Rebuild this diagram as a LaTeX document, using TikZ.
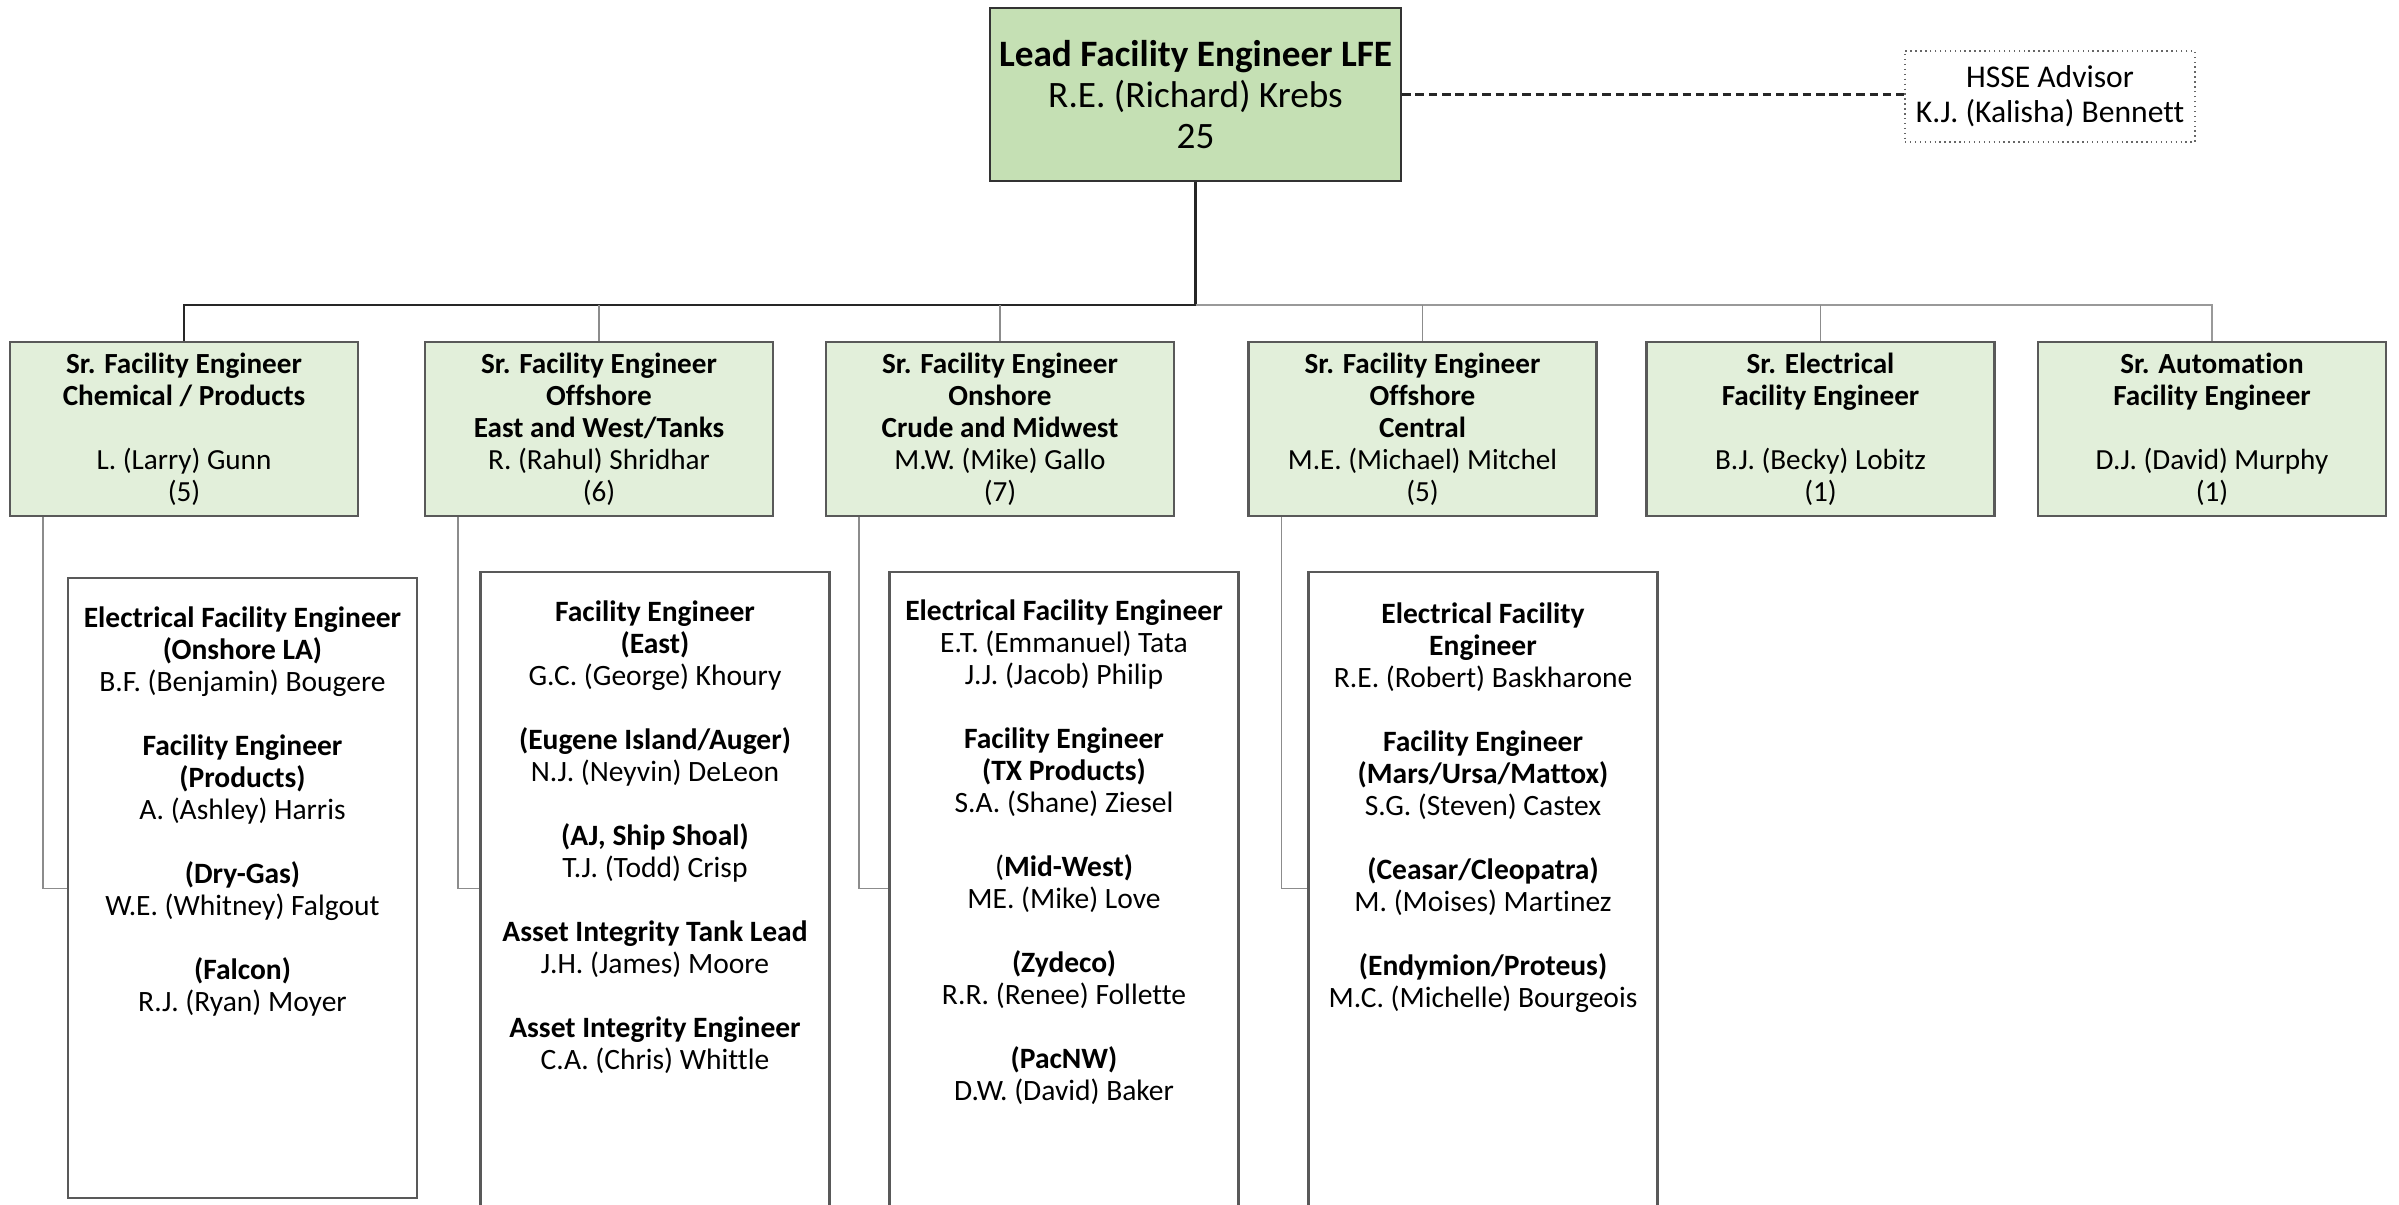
\documentclass[tikz,border=0pt]{standalone}
\usepackage{fontspec}
\setmainfont{Carlito}[Ligatures=CommonOff]
\definecolor{leadgreen}{HTML}{C5E0B4}
\definecolor{srgreen}{HTML}{E2EFDA}
\definecolor{boxline}{HTML}{595959}
\definecolor{connline}{HTML}{8C8C8C}
\begin{document}
\begin{tikzpicture}[
  lead/.style={draw=black!80, line width=0.6pt, fill=leadgreen, minimum width=4.11cm, minimum height=1.73cm, inner sep=0pt, align=center, font=\fontsize{10.6}{11.7}\selectfont},
  advisor/.style={draw=black!60, densely dotted, line width=0.4pt, minimum width=2.90cm, minimum height=0.91cm, inner sep=0pt, align=center, font=\fontsize{9}{9.9}\selectfont},
  srbox/.style={draw=boxline, line width=0.6pt, fill=srgreen, minimum width=3.48cm, minimum height=1.74cm, inner sep=0pt, align=center, font=\fontsize{8.3}{9.1}\selectfont},
  teambox/.style={draw=boxline, line width=0.6pt, minimum width=3.49cm, inner sep=0pt},
  teamtext/.style={anchor=north, align=center, inner sep=0pt, font=\fontsize{8.4}{9.1}\selectfont},
  conn/.style={draw=connline, line width=0.5pt},
]
\useasboundingbox (0,0) rectangle (23.99,-12.05);
\clip (0,0) rectangle (23.99,-12.05);

\node[lead] (lead) at (11.955,-0.945) {\textbf{Lead Facility Engineer LFE}\\R.E. (Richard) Krebs\\25};
\node[advisor] (hsse) at (20.50,-0.965) {HSSE Advisor\\K.J. (Kalisha) Bennett};
\draw[black!85, line width=0.6pt, dash pattern=on 2.4pt off 1.4pt] (lead.east) -- (lead.east -| hsse.west);

\node[srbox] (b1) at (1.84,-4.29) {\textbf{Sr. Facility Engineer}\\\textbf{Chemical / Products}\\[9.1pt]L. (Larry) Gunn\\(5)};
\node[srbox] (b2) at (5.99,-4.29) {\textbf{Sr. Facility Engineer}\\\textbf{Offshore}\\\textbf{East and West/Tanks}\\R. (Rahul) Shridhar\\(6)};
\node[srbox] (b3) at (10.00,-4.29) {\textbf{Sr. Facility Engineer}\\\textbf{Onshore}\\\textbf{Crude and Midwest}\\M.W. (Mike) Gallo\\(7)};
\node[srbox] (b4) at (14.225,-4.29) {\textbf{Sr. Facility Engineer}\\\textbf{Offshore}\\\textbf{Central}\\M.E. (Michael) Mitchel\\(5)};
\node[srbox] (b5) at (18.205,-4.29) {\textbf{Sr. Electrical}\\\textbf{Facility Engineer}\\[9.1pt]B.J. (Becky) Lobitz\\(1)};
\node[srbox] (b6) at (22.12,-4.29) {\textbf{Sr. Automation}\\\textbf{Facility Engineer}\\[9.1pt]D.J. (David) Murphy\\(1)};

\coordinate (bus) at (11.955,-3.05);
\draw[black!85, line width=0.6pt] (lead.south) -- (bus);
\draw[black!85, line width=0.6pt] (bus) -| (b1.north);
\draw[black!40, line width=0.6pt] (bus) -| (b6.north);
\foreach \b in {b2,b3,b4,b5} \draw[conn] (\b.north) -- (\b.north |- bus);

\node[teambox, minimum height=6.20cm] (c1) at (2.425,-8.88) {};
\node[teambox, minimum height=6.43cm] (c2) at (6.55,-8.935) {};
\node[teambox, minimum height=6.43cm] (c3) at (10.64,-8.935) {};
\node[teambox, minimum height=6.43cm] (c4) at (14.83,-8.935) {};

\coordinate (cy) at (0,-8.885);
\draw[conn] ([xshift=0.34cm]b1.south west) |- (c1.west |- cy);
\draw[conn] ([xshift=0.34cm]b2.south west) |- (c2.west |- cy);
\draw[conn] ([xshift=0.34cm]b3.south west) |- (c3.west |- cy);
\draw[conn] ([xshift=0.34cm]b4.south west) |- (c4.west |- cy);

\node[teamtext] (t1) at ([yshift=-0.29cm]c1.north) {\textbf{Electrical Facility Engineer}\\\textbf{(Onshore LA)}\\B.F. (Benjamin) Bougere\\[9.1pt]\textbf{Facility Engineer}\\\textbf{(Products)}\\A. (Ashley) Harris\\[9.1pt]\textbf{(Dry-Gas)}\\W.E. (Whitney) Falgout\\[9.1pt]\textbf{(Falcon)}\\R.J. (Ryan) Moyer};
\node[teamtext] (t2) at ([yshift=-0.295cm]c2.north) {\textbf{Facility Engineer}\\\textbf{(East)}\\G.C. (George) Khoury\\[9.1pt]\textbf{(Eugene Island/Auger)}\\N.J. (Neyvin) DeLeon\\[9.1pt]\textbf{(AJ, Ship Shoal)}\\T.J. (Todd) Crisp\\[9.1pt]\textbf{Asset Integrity Tank Lead}\\J.H. (James) Moore\\[9.1pt]\textbf{Asset Integrity Engineer}\\C.A. (Chris) Whittle};
\node[teamtext] (t3) at ([yshift=-0.28cm]c3.north) {\textbf{Electrical Facility Engineer}\\E.T. (Emmanuel) Tata\\J.J. (Jacob) Philip\\[9.1pt]\textbf{Facility Engineer}\\\textbf{(TX Products)}\\S.A. (Shane) Ziesel\\[9.1pt](\textbf{Mid-West)}\\ME. (Mike) Love\\[9.1pt]\textbf{(Zydeco)}\\R.R. (Renee) Follette\\[9.1pt]\textbf{(PacNW)}\\D.W. (David) Baker};
\node[teamtext] (t4) at ([yshift=-0.31cm]c4.north) {\textbf{Electrical Facility}\\\textbf{Engineer}\\R.E. (Robert) Baskharone\\[9.1pt]\textbf{Facility Engineer}\\\textbf{(Mars/Ursa/Mattox)}\\S.G. (Steven) Castex\\[9.1pt]\textbf{(Ceasar/Cleopatra)}\\M. (Moises) Martinez\\[9.1pt]\textbf{(Endymion/Proteus)}\\M.C. (Michelle) Bourgeois};
\end{tikzpicture}
\end{document}
